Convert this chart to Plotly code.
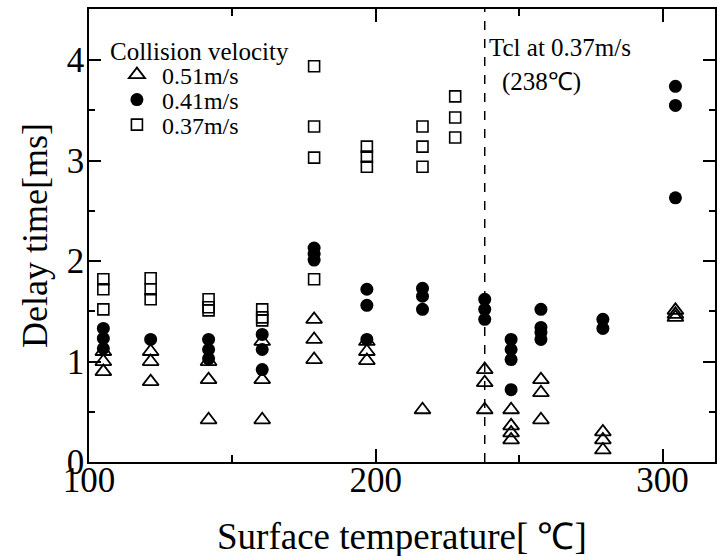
import plotly.graph_objects as go

# Surface temperature columns [°C]
temps = [105, 121.5, 141.7, 160.4, 178.5, 196.9, 216.3, 227.7, 238, 247.2, 257.6, 279.2, 304.5]

# Delay time [ms] per column for each collision velocity
v051 = [[1.1, 1.0, 0.9], [1.1, 1.0, 0.8], [1.0, 0.82, 0.42], [1.2, 0.82, 0.42],
        [1.42, 1.22, 1.02], [1.2, 1.1, 1.01], [0.52], [], [0.92, 0.79, 0.52],
        [0.52, 0.36, 0.29, 0.22], [0.82, 0.69, 0.42], [0.3, 0.22, 0.12], [1.51, 1.47, 1.44]]
v041 = [[1.33, 1.23, 1.13], [1.22], [1.22, 1.12, 1.03], [1.27, 1.12, 0.92],
        [2.13, 2.07, 2.01], [1.72, 1.56, 1.22], [1.73, 1.65, 1.52], [], [1.62, 1.52, 1.42],
        [1.22, 1.12, 1.02, 0.72], [1.52, 1.34, 1.29, 1.22], [1.42, 1.33], [3.74, 3.55, 2.63]]
v037 = [[1.82, 1.72, 1.52], [1.83, 1.72, 1.62], [1.62, 1.54, 1.51], [1.52, 1.44, 1.41],
        [3.94, 3.34, 3.03, 1.82], [3.14, 3.04, 2.94], [3.34, 3.14, 2.94], [3.64, 3.43, 3.23],
        [], [], [], [], []]

series_names = ["0.51m/s", "0.41m/s", "0.37m/s"]
legend_title = "Collision velocity"
x_title = "Surface temperature[ ℃]"
y_title = "Delay time[ms]"
tcl = 238

def flat(vals):
    xs, ys = [], []
    for t, col in zip(temps, vals):
        for v in col:
            xs.append(t)
            ys.append(v)
    return xs, ys

FONT = "Liberation Serif, Times New Roman, serif"
fig = go.Figure()

styles = [
    dict(symbol="triangle-up-open", size=14, color="black", line=dict(color="black", width=1.8)),
    dict(symbol="circle", size=13, color="black", line=dict(color="black", width=0)),
    dict(symbol="square-open", size=11, color="black", line=dict(color="black", width=1.6)),
]
legend_ids = ["legend", "legend2", "legend3"]
for name, vals, st, lg in zip(series_names, [v051, v041, v037], styles, legend_ids):
    xs, ys = flat(vals)
    fig.add_trace(go.Scatter(x=xs, y=ys, mode="markers", name=name, marker=st,
                             cliponaxis=False, legend=lg))

fig.add_shape(type="line", x0=tcl, x1=tcl, y0=0, y1=1, xref="x", yref="paper",
              line=dict(color="black", width=1.5, dash="dash"))

fig.add_annotation(x=tcl, y=4.13, xref="x", yref="y", text="Tcl at 0.37m/s", showarrow=False,
                   xanchor="left", xshift=2, font=dict(family=FONT, size=25, color="black"))
fig.add_annotation(x=tcl, y=3.78, xref="x", yref="y", text="(238℃)", showarrow=False,
                   xanchor="left", xshift=15, font=dict(family=FONT, size=25, color="black"))
fig.add_annotation(x=(108 - 89) / 628, y=(462 - 51) / 453, xref="paper", yref="paper",
                   text=legend_title, showarrow=False, xanchor="left", yanchor="middle",
                   font=dict(family=FONT, size=25, color="black"))
# x-axis title placed as annotation so it can sit lower than the axis-title margin clamp
fig.add_annotation(x=0.5, y=0, xref="paper", yref="paper", text=x_title, showarrow=False,
                   xanchor="center", yanchor="middle", yshift=-74,
                   font=dict(family=FONT, size=37, color="black"))

axis_common = dict(showline=True, linecolor="black", linewidth=1.5, mirror="allticks",
                   ticks="inside", tickcolor="black", tickwidth=1.5, showgrid=False, zeroline=False,
                   tickfont=dict(family=FONT, size=35, color="black"))

fig.update_xaxes(range=[100, 318.3], tickvals=[100, 200, 300], ticklen=13, ticklabelstandoff=-14,
                 minor=dict(tickvals=[150, 250], ticklen=7, ticks="inside", tickcolor="black", tickwidth=1.5),
                 **axis_common)
fig.update_yaxes(range=[0, 4.51], tickvals=[0, 1, 2, 3, 4], ticklen=12, ticklabelstandoff=-4,
                 minor=dict(tickvals=[0.5, 1.5, 2.5, 3.5], ticklen=6, ticks="inside", tickcolor="black", tickwidth=1.5),
                 title=dict(text=y_title, font=dict(family=FONT, size=36, color="black"), standoff=8),
                 **axis_common)

leg_rows = [75, 100, 125]
leg_common = dict(xanchor="left", yanchor="middle", bgcolor="rgba(0,0,0,0)", borderwidth=0,
                  font=dict(family=FONT, size=24, color="black"), itemwidth=40)
legends = {}
for lg, row in zip(legend_ids, leg_rows):
    legends[lg] = dict(x=(112 - 89) / 628, y=(462 - row) / 453, **leg_common)

fig.update_layout(
    width=717, height=556,
    margin=dict(l=89, r=0, t=9, b=94),
    paper_bgcolor="white", plot_bgcolor="white",
    showlegend=True,
    **legends,
)

fig.write_html("out.html")
